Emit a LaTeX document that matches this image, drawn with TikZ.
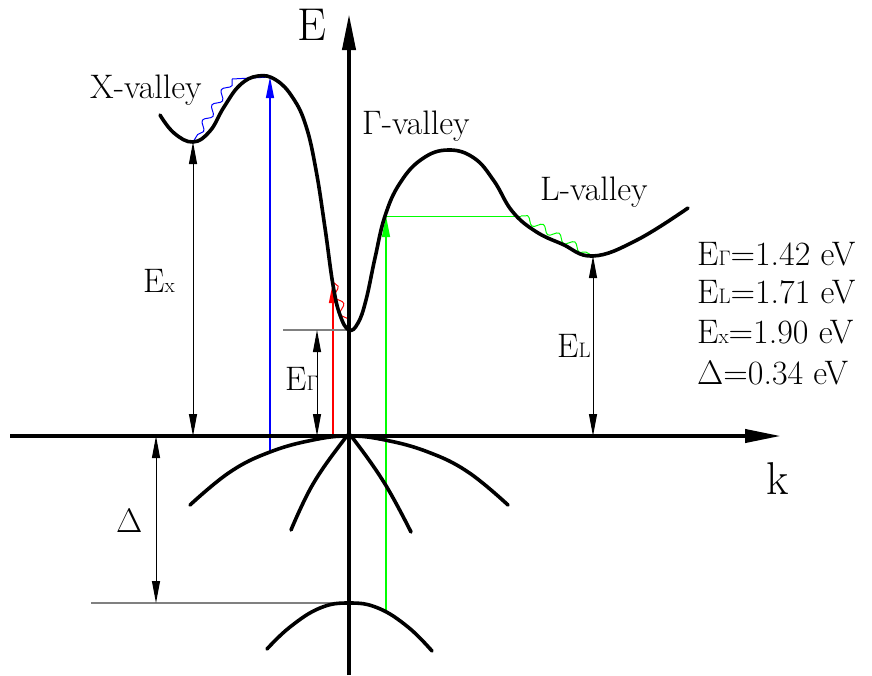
\RequirePackage{fix-cm}
\documentclass[tikz,border=0pt]{standalone}
\usepackage{fontspec}
\usetikzlibrary{arrows.meta,decorations.pathmorphing}
\newcommand\sbs[1]{{\fontsize{21}{21}\selectfont #1}}
\begin{document}
\begin{tikzpicture}[x=1pt,y=-1pt,
 band/.style={line width=3.6pt, line cap=round, line join=round},
 axis/.style={line width=4pt, -{Triangle[length=36pt,width=13pt]}},
 dim/.style={line width=1pt, {Triangle[length=22pt,width=8pt]}-{Triangle[length=22pt,width=8pt]}},
 ref/.style={line width=1.2pt, gray},
 trans/.style={line width=1.3pt, -{Triangle[length=21pt,width=8pt]}},
 wave/.style={line width=1pt, decorate, decoration={snake, amplitude=3.5pt, segment length=18pt}},
 lbl/.style={inner sep=0pt, anchor=base west, font=\fontsize{34}{36}\selectfont},
]
\useasboundingbox (0,0) rectangle (872,675);
% key points
\coordinate (O) at (349,436);
\coordinate (Etop) at (349,14);
\coordinate (Ebot) at (349,675);
\coordinate (kleft) at (10,436);
\coordinate (kright) at (781,436);
\coordinate (Xmin) at (193,142);
\coordinate (Xpk) at (270,77);
\coordinate (Gmin) at (349,330);
\coordinate (Lmin) at (593,256);
\coordinate (SOtop) at (349,603);
\coordinate (Vx) at (270,452);
\coordinate (Rbot) at (333,436);
\coordinate (Rtop) at (333,282);
\coordinate (Gbot) at (386,610);
\coordinate (Gtop) at (386,216);
\coordinate (gw) at (521,216);
\coordinate (bw) at (232,79);
\coordinate (EGx) at (317,330);
\coordinate (EGref) at (283,330);
\coordinate (Dtop) at (156,436);
\coordinate (Dbot) at (156,603);
\coordinate (Dref) at (91,603);
% transitions
\draw[trans, blue] (Vx) -- (Xpk);
\draw[blue, line width=1pt] (Xpk) -- (bw);
\draw[blue, wave] (bw) -- (Xmin);
\draw[trans, red] (Rbot) -- (Rtop);
\draw[red, wave] (Rtop) -- (Gmin);
\draw[trans, green] (Gbot) -- (Gtop);
\draw[green, line width=1pt] (Gtop) -- (gw);
\draw[green, wave] (gw) -- (Lmin);
% reference lines
\draw[ref] (EGref) -- (Gmin);
\draw[ref] (Dref) -- (SOtop);
% dimension arrows
\draw[dim] (Xmin) -- (Xmin |- O);
\draw[dim] (EGx) -- (EGx |- O);
\draw[dim] (Lmin) -- (Lmin |- O);
\draw[dim] (Dtop) -- (Dbot);
% conduction band
\draw[band] plot[smooth, tension=0.7] coordinates {(160,115) (174,133) (193,142) (210,131) (224,107) (240,85) (258,76) (276,80) (293,98) (306,126) (316,170) (325,228) (333,285) (340,315) (349,330) (358,323) (366,300) (375,258) (385,216) (400,183) (422,159) (448,150) (474,158) (494,181) (512,211) (535,231) (562,244) (593,256) (637,240) (688,208)};
% valence bands
\draw[band] plot[smooth, tension=0.7] coordinates {(190,505) (230,472) (270,452) (313,440) (349,436) (385,440) (428,452) (468,472) (508,505)};
\draw[band] plot[smooth, tension=0.7] coordinates {(291,530) (313,484) (343,441) (349,436) (355,441) (385,484) (411,532)};
\draw[band] plot[smooth, tension=0.7] coordinates {(267,649) (290,627) (320,608) (349,603) (378,608) (408,627) (432,651)};
% axes
\draw[axis] (Ebot) -- (Etop);
\draw[axis] (kleft) -- (kright);
% labels
\node[lbl, font=\fontsize{46}{48}\selectfont] (tE) at (297,40) {E};
\node[lbl, font=\fontsize{46}{48}\selectfont] (tk) at (766,494) {k};
\node[lbl] (tX) at (90,98) {X-valley};
\node[lbl] (tG) at (362,134) {$\Gamma$-valley};
\node[lbl] (tL) at (540,200) {L-valley};
\node[lbl] (tEx) at (143,292) {E\sbs{x}};
\node[lbl] (tEG) at (285,390) {E\sbs{$\Gamma$}};
\node[lbl] (tEL) at (557,357) {E\sbs{L}};
\node[lbl] (tD) at (116,532) {$\Delta$};
\node[lbl] (l1) at (697,265) {E\sbs{$\Gamma$}=1.42 eV};
\node[lbl] (l2) at (697,303) {E\sbs{L}=1.71 eV};
\node[lbl] (l3) at (697,343) {E\sbs{x}=1.90 eV};
\node[lbl] (l4) at (697,384) {$\Delta$=0.34 eV};
\end{tikzpicture}
\end{document}
